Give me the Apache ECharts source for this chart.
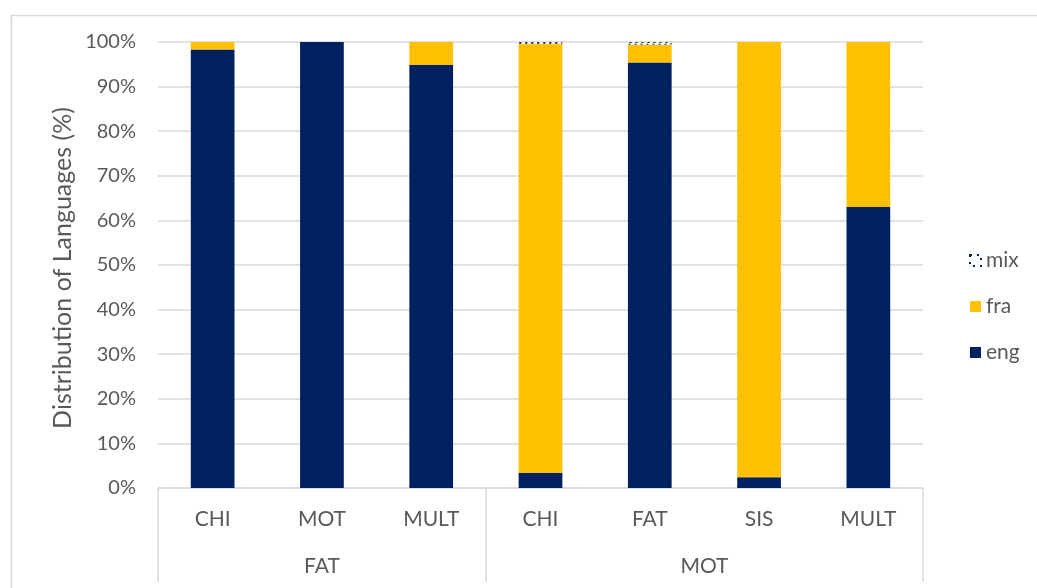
<!DOCTYPE html>
<html>
<head>
<meta charset="utf-8">
<script src="https://cdn.jsdelivr.net/npm/echarts@6/dist/echarts.min.js"></script>
<style>
  html, body { margin: 0; padding: 0; background: #fff; }
  #chart { width: 1037px; height: 588px; }
</style>
</head>
<body>
<div id="chart"></div>
<script>
// speakers (lower level) and their groups (upper level)
const speakers = ['CHI', 'MOT', 'MULT', 'CHI', 'FAT', 'SIS', 'MULT'];
const groups = ['FAT', 'MOT'];
const groupSizes = [3, 4];

// share of utterances per language, %
const eng = [98.3, 100, 94.9, 3.4, 95.4, 2.4, 63.0];
const fra = [1.7, 0, 5.1, 96.2, 4.0, 97.6, 37.0];
const mix = [0, 0, 0, 0.4, 0.6, 0, 0];

const yTicks = [0, 10, 20, 30, 40, 50, 60, 70, 80, 90, 100];

const textColor = '#595959';
const lineColor = '#d9d9d9';
const font = 'Lato';

// group boundaries and centres on a 0..n value axis
const bounds = [0];
groupSizes.forEach(s => bounds.push(bounds[bounds.length - 1] + s));
const centres = groupSizes.map((s, i) => bounds[i] + s / 2);

// empty segments are not drawn at all (no border for 0)
const seg = arr => arr.map(v => (v > 0 ? v : null));

const chart = echarts.init(document.getElementById('chart'));

chart.setOption({
  animation: false,
  textStyle: { fontFamily: font, color: textColor },
  graphic: [{
    type: 'rect',
    left: 9, top: 13,
    shape: { width: 1040, height: 590 },
    style: { fill: null, stroke: lineColor, lineWidth: 1.5 },
    silent: true
  }, {
    type: 'text',
    x: 63, y: 268,
    rotation: Math.PI / 2,
    style: {
      text: 'Distribution of Languages (%)',
      fontFamily: font,
      fontSize: 25,
      fill: textColor,
      align: 'center',
      verticalAlign: 'middle'
    },
    silent: true
  }],
  grid: { left: 158, right: 114, top: 42, bottom: 100 },
  legend: {
    orient: 'vertical',
    left: 964,
    top: 245,
    itemGap: 25,
    itemWidth: 11,
    itemHeight: 11,
    icon: 'rect',
    data: [
      { name: 'mix', itemStyle: { borderWidth: 2, borderType: [2, 5] } },
      'fra',
      'eng'
    ],
    textStyle: { fontFamily: font, fontSize: 21, color: textColor }
  },
  xAxis: [{
    type: 'category',
    data: speakers,
    axisLine: { lineStyle: { color: lineColor, width: 1.5 } },
    axisTick: { show: false },
    axisLabel: { fontSize: 21, color: textColor, margin: 21, interval: 0 }
  }, {
    type: 'value',
    min: 0,
    max: speakers.length,
    position: 'bottom',
    splitLine: { show: false },
    axisLine: { show: false },
    axisTick: {
      show: true,
      customValues: bounds,
      length: 94,
      lineStyle: { color: lineColor, width: 1.5 }
    },
    axisLabel: {
      customValues: centres,
      formatter: v => groups[centres.indexOf(v)],
      fontSize: 21,
      color: textColor,
      margin: 68
    }
  }],
  yAxis: {
    type: 'value',
    min: 0,
    max: 100,
    interval: 10,
    axisLine: { show: false },
    axisTick: { show: false },
    axisLabel: {
      fontSize: 20,
      color: textColor,
      margin: 22,
      customValues: yTicks,
      formatter: v => v + '%'
    },
    splitLine: { lineStyle: { color: lineColor, width: 1.5 } }
  },
  series: [{
    name: 'eng',
    type: 'bar',
    stack: 'lang',
    barWidth: '40%',
    data: seg(eng),
    itemStyle: { color: '#002060' }
  }, {
    name: 'fra',
    type: 'bar',
    stack: 'lang',
    data: seg(fra),
    itemStyle: { color: '#FFC000' }
  }, {
    name: 'mix',
    type: 'bar',
    stack: 'lang',
    data: seg(mix),
    itemStyle: {
      color: '#ffffff',
      borderColor: '#002060',
      borderWidth: 1,
      borderType: [2, 4]
    }
  }]
});
</script>
</body>
</html>
